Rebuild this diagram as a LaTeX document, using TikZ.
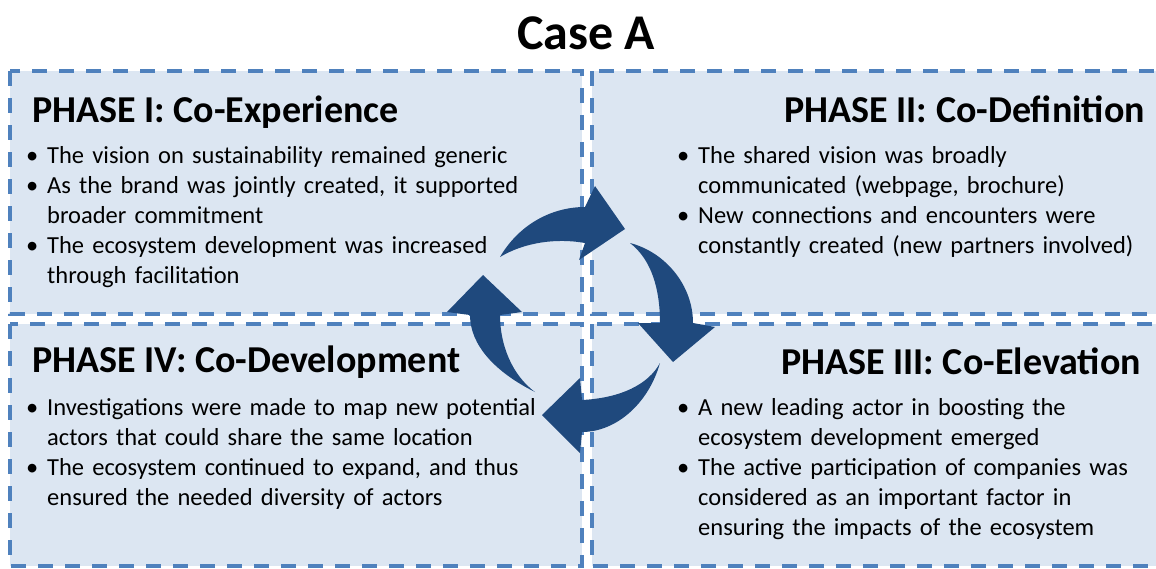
\documentclass[tikz,border=0pt]{standalone}
\usepackage{fontspec}
\setmainfont{Carlito}
\usetikzlibrary{positioning}

\definecolor{boxfill}{HTML}{DCE6F2}
\definecolor{boxline}{HTML}{4F81BD}
\definecolor{arrowblue}{HTML}{1F497D}

% bullet and continuation indent
\newcommand{\bitem}{\makebox[21pt][l]{•}}
\newcommand{\bcont}{\hspace*{21pt}}

\begin{document}
\begin{tikzpicture}[x=1pt, y=-1pt,
  phasebox/.style={fill=boxfill, draw=boxline, line width=3.5pt, dash pattern=on 15pt off 12pt},
  phasehead/.style={font=\fontsize{38}{45}\selectfont\bfseries, inner sep=0pt},
  phasetext/.style={font=\fontsize{24.5}{30}\selectfont, align=left, inner sep=0pt, text width=540pt},
  cyclearrow/.style={fill=arrowblue}]
% Set the size of the figure
\useasboundingbox (0,0) rectangle (1156,568);
\clip (0,0) rectangle (1156,568);

% Title
\node[font=\fontsize{50}{60}\selectfont\bfseries, inner sep=0pt] (title) at (586,33) {Case A};

% The four phase boxes
\draw[phasebox] (10,71) rectangle (582,314);
\draw[phasebox] (592,71) rectangle (1170,314);
\draw[phasebox] (10,324) rectangle (582,566);
\draw[phasebox] (592,324) rectangle (1170,566);

% Phase I
\node[phasehead, anchor=base west] (head1) at (32,122) {PHASE I: Co-Experience};
\node[phasetext, anchor=base west] (text1) at (26,163) {%
\bitem The vision on sustainability remained generic\\
\bitem As the brand was jointly created, it supported\\
\bcont broader commitment\\
\bitem The ecosystem development was increased\\
\bcont through facilitation};

% Phase II
\node[phasehead, anchor=base east] (head2) at (1145,122) {PHASE II: Co-Definition};
\node[phasetext, anchor=base west] (text2) at (677,163) {%
\bitem The shared vision was broadly\\
\bcont communicated (webpage, brochure)\\
\bitem New connections and encounters were\\
\bcont constantly created (new partners involved)};

% Phase III
\node[phasehead, anchor=base east] (head3) at (1141,374) {PHASE III: Co-Elevation};
\node[phasetext, anchor=base west] (text3) at (677,415) {%
\bitem A new leading actor in boosting the\\
\bcont ecosystem development emerged\\
\bitem The active participation of companies was\\
\bcont considered as an important factor in\\
\bcont ensuring the impacts of the ecosystem};

% Phase IV
\node[phasehead, anchor=base west] (head4) at (32,372) {PHASE IV: Co-Development};
\node[phasetext, anchor=base west] (text4) at (26,415) {%
\bitem Investigations were made to map new potential\\
\bcont actors that could share the same location\\
\bitem The ecosystem continued to expand, and thus\\
\bcont ensured the needed diversity of actors};

% Cycle arrows
\fill[cyclearrow] (500,257) .. controls (518,226) and (550,207) .. (585,207) -- (595,186) -- (625,229)
  -- (579,260) -- (585,243) .. controls (557,238) and (525,242) .. (500,257) -- cycle;
\fill[cyclearrow] (630,243) .. controls (665,252) and (693,285) .. (693,323) -- (715,327) -- (673,362)
  -- (638,323) -- (660,323) .. controls (660,290) and (652,260) .. (630,243) -- cycle;
\fill[cyclearrow] (660,363) .. controls (648,405) and (615,432) .. (582,432) -- (580,453) -- (542,415)
  -- (580,378) -- (582,400) .. controls (620,398) and (648,385) .. (660,363) -- cycle;
\fill[cyclearrow] (535,392) .. controls (495,372) and (470,345) .. (470,315) -- (447,312) -- (483,275)
  -- (522,312) -- (500,315) .. controls (500,345) and (512,375) .. (535,392) -- cycle;
\end{tikzpicture}
\end{document}
